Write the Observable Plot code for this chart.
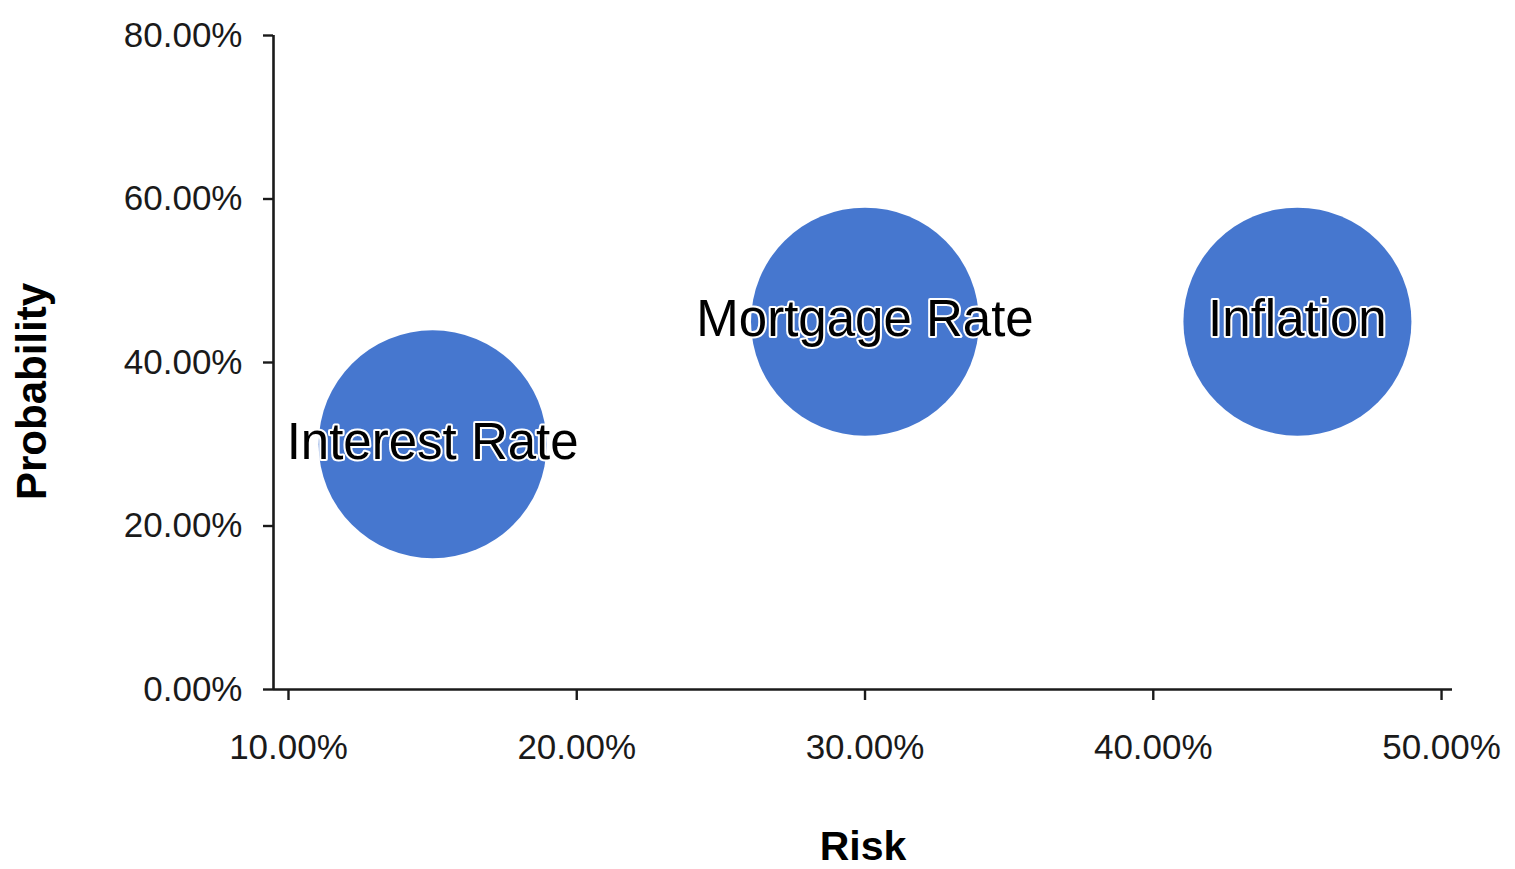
<!DOCTYPE html>
<html>
<head>
<meta charset="utf-8">
<script src="https://cdn.jsdelivr.net/npm/d3@7"></script>
<script src="https://cdn.jsdelivr.net/npm/@observablehq/plot@0.6"></script>
<style>
  html, body { margin: 0; padding: 0; background: #ffffff; }
  #chart { width: 1515px; height: 869px; }
  #chart svg g[aria-label="x-axis tick"], #chart svg g[aria-label="y-axis tick"] { stroke-width: 2.4px; stroke: #1a1a1a; }
</style>
</head>
<body>
<div id="chart"></div>
<script>
const names = ["Interest Rate", "Mortgage Rate", "Inflation"];
const risk = [0.15, 0.30, 0.45];
const probability = [0.30, 0.45, 0.45];
const sizes = [1, 1, 1];
const xTicks = [0.1, 0.2, 0.3, 0.4, 0.5];
const yTicks = [0, 0.2, 0.4, 0.6, 0.8];
const xDomain = [0.0948, 0.5038];
const yDomain = [0, 0.8];
const xTitle = "Risk";
const yTitle = "Probability";

const data = names.map((n, i) => ({name: n, risk: risk[i], probability: probability[i], size: sizes[i]}));
const fmt = d3.format(".2%");
const font = "'Liberation Sans', Arial, Helvetica, sans-serif";

const chart = Plot.plot({
  width: 1515,
  height: 869,
  marginLeft: 273,
  marginRight: 63,
  marginTop: 35,
  marginBottom: 180,
  style: {fontFamily: font, background: "#ffffff", color: "#1a1a1a"},
  x: {domain: xDomain},
  y: {domain: yDomain},
  r: {domain: [0, 1], range: [0, 114]},
  marks: [
    Plot.dot(data, {x: "risk", y: "probability", r: "size", fill: "#4677cf", stroke: "none"}),
    Plot.text(data, {x: "risk", y: "probability", text: "name", fontSize: 51, fill: "#000000",
      stroke: "#ffffff", strokeWidth: 4, dy: -2, fontFamily: font}),
    Plot.axisX({ticks: xTicks, tickFormat: fmt, tickSize: 11, tickPadding: 34, fontSize: 35,
      label: null, stroke: "#1a1a1a", fill: "#1a1a1a"}),
    Plot.axisY({ticks: yTicks, tickFormat: fmt, tickSize: 10, tickPadding: 21, fontSize: 35,
      label: null, stroke: "#1a1a1a", fill: "#1a1a1a"}),
    Plot.ruleY([yDomain[0]], {stroke: "#1a1a1a", strokeWidth: 2.6}),
    Plot.ruleX([xDomain[0]], {stroke: "#1a1a1a", strokeWidth: 2.6}),
    Plot.text([xTitle], {frameAnchor: "bottom", dy: 157, text: d => d, fontSize: 41,
      fontWeight: "bold", fill: "#000000", textAnchor: "middle", lineAnchor: "middle"}),
    Plot.text([yTitle], {frameAnchor: "left", dx: -241, dy: 29, rotate: -90, text: d => d, fontSize: 42,
      fontWeight: "bold", fill: "#000000", textAnchor: "middle", lineAnchor: "middle"})
  ]
});
document.getElementById("chart").appendChild(chart);
</script>
</body>
</html>
